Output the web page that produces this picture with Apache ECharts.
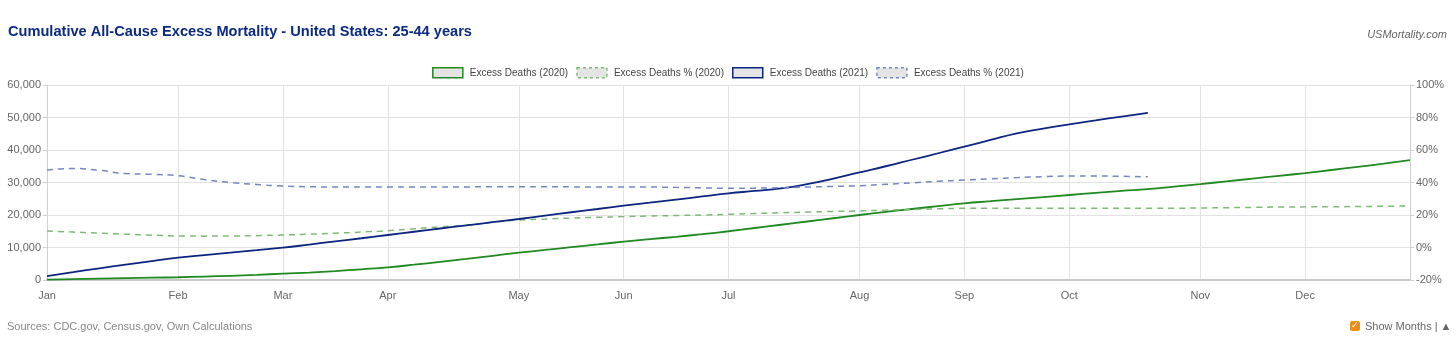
<!DOCTYPE html>
<html lang="en">
<head>
    <meta charset="UTF-8">
    <title>Cumulative All-Cause Excess Mortality</title>
    <script src="https://cdn.jsdelivr.net/npm/echarts@6/dist/echarts.min.js"></script>
    <style>
        html, body { margin: 0; padding: 0; background: #fff; }
        #container { width: 1456px; height: 351px; }
    </style>
</head>
<body>
<div id="container"></div>
<script type="text/javascript">
    // month labels and the week index at which each month starts
    var monthLabels = ['Jan', 'Feb', 'Mar', 'Apr', 'May', 'Jun', 'Jul', 'Aug', 'Sep', 'Oct', 'Nov', 'Dec'];
    var monthWeeks = [0, 5, 9, 13, 18, 22, 26, 31, 35, 39, 44, 48];
    var weekCount = 53;

    // cumulative excess deaths, weekly
    var deaths2020 = [100, 250, 400, 550, 700, 850, 1050, 1300, 1600, 1950, 2300, 2750, 3300, 3900, 4700, 5600, 6500, 7450, 8400,
        9250, 10100, 10950, 11800, 12550, 13300, 14100, 15000, 16000, 17000, 18000, 19000, 20000, 20950, 21850, 22750, 23600,
        24250, 24900, 25500, 26150, 26800, 27400, 27950, 28700, 29500, 30350, 31200, 32050, 32900, 33850, 34800, 35800, 36900];
    var deaths2021 = [1200, 2400, 3600, 4700, 5800, 6870, 7650, 8450, 9200, 9950, 10900, 11900, 12850, 13850, 14850, 15850, 16800,
        17800, 18770, 19800, 20850, 21850, 22870, 23800, 24750, 25700, 26670, 27400, 28200, 29500, 31200, 33130, 35000, 37000,
        39000, 41030, 43100, 45130, 46600, 47900, 49100, 50300, 51400];

    // cumulative excess deaths in percent, weekly
    var pct2020 = [10.2, 9.5, 8.8, 8.2, 7.6, 7.1, 7.0, 7.1, 7.3, 7.7, 8.2, 8.8, 9.5, 10.3, 11.5, 12.7, 13.8, 15.5, 16.9, 17.5,
        18.1, 18.6, 19.0, 19.4, 19.7, 20.0, 20.4, 20.9, 21.4, 21.8, 22.2, 22.5, 23.0, 23.4, 23.8, 24.1, 24.1, 24.1, 24.1, 24.1,
        24.1, 24.1, 24.2, 24.2, 24.3, 24.5, 24.7, 24.9, 25.0, 25.1, 25.2, 25.4, 25.5];
    var pct2021 = [47.7, 48.6, 47.5, 45.5, 45.0, 44.2, 41.8, 40.0, 38.8, 37.8, 37.4, 37.2, 37.2, 37.2, 37.2, 37.3, 37.3, 37.4,
        37.4, 37.4, 37.3, 37.2, 37.2, 37.2, 37.0, 36.7, 36.4, 36.5, 36.8, 37.2, 37.6, 38.0, 38.9, 39.8, 40.7, 41.5, 42.3, 43.0,
        43.6, 44.0, 44.0, 43.8, 43.5];

    var weeks = [];
    for (var i = 0; i < weekCount; i++) {
        var m = monthWeeks.indexOf(i);
        weeks.push(m >= 0 ? monthLabels[m] : 'W' + (i + 1));
    }
    function isMonthStart(idx) {
        return monthWeeks.indexOf(idx) >= 0;
    }

    var green = '#1f8a1f';
    var navy = '#0c2580';
    var greenLight = '#7dbb74';
    var blueLight = '#7485c2';

    var myChart = echarts.init(document.getElementById('container'));
    var option = {
        animation: false,
        textStyle: { fontFamily: 'Liberation Sans, Arial, sans-serif' },
        title: {
            text: 'Cumulative All-Cause Excess Mortality - United States: 25-44 years',
            left: 8, top: 24, padding: 0,
            textStyle: { color: '#0b2a82', fontSize: 14.6, fontWeight: 'bold', fontFamily: 'Liberation Sans, Arial, sans-serif' }
        },
        legend: {
            top: 67,
            left: 'center',
            padding: 0,
            icon: 'rect',
            itemWidth: 30,
            itemHeight: 10,
            itemGap: 8,
            textStyle: { fontSize: 10, color: '#444', padding: [0, 0, 0, 2] },
            data: [
                { name: 'Excess Deaths (2020)', itemStyle: { color: '#e4e4e4', borderColor: green, borderWidth: 1.5 } },
                { name: 'Excess Deaths % (2020)', itemStyle: { color: '#e4e4e4', borderColor: greenLight, borderWidth: 1.5, borderType: [3, 3] } },
                { name: 'Excess Deaths (2021)', itemStyle: { color: '#e4e4e4', borderColor: navy, borderWidth: 1.5 } },
                { name: 'Excess Deaths % (2021)', itemStyle: { color: '#e4e4e4', borderColor: blueLight, borderWidth: 1.5, borderType: [3, 3] } }
            ]
        },
        grid: { left: 47, right: 46, top: 85, bottom: 71 },
        xAxis: {
            type: 'category',
            boundaryGap: false,
            data: weeks,
            axisLine: { lineStyle: { color: '#c8c8c8', width: 2 } },
            axisTick: { show: false },
            axisLabel: { interval: isMonthStart, color: '#666', fontSize: 11, margin: 10 },
            splitLine: { show: true, interval: isMonthStart, lineStyle: { color: '#e2e2e2' } }
        },
        yAxis: [{
            type: 'value',
            min: 0, max: 60000, interval: 10000,
            axisLine: { show: true, lineStyle: { color: '#d0d0d0' } },
            axisTick: { show: true, length: 4, lineStyle: { color: '#d0d0d0' } },
            axisLabel: {
                color: '#666', fontSize: 11, margin: 6,
                formatter: function (v) { return v.toLocaleString('en-US'); }
            },
            splitLine: { lineStyle: { color: '#e2e2e2' } }
        }, {
            type: 'value',
            min: -20, max: 100, interval: 20,
            position: 'right',
            axisLine: { show: true, lineStyle: { color: '#d0d0d0' } },
            axisTick: { show: true, length: 4, lineStyle: { color: '#d0d0d0' } },
            axisLabel: { color: '#666', fontSize: 11, margin: 6, formatter: '{value}%' },
            splitLine: { show: false }
        }],
        series: [{
            name: 'Excess Deaths (2020)', type: 'line', yAxisIndex: 0, data: deaths2020,
            smooth: true, showSymbol: false, color: green,
            lineStyle: { color: green, width: 1.8 }
        }, {
            name: 'Excess Deaths % (2020)', type: 'line', yAxisIndex: 1, data: pct2020,
            smooth: true, showSymbol: false, color: greenLight,
            lineStyle: { color: greenLight, width: 1.5, type: [6, 5] }
        }, {
            name: 'Excess Deaths (2021)', type: 'line', yAxisIndex: 0, data: deaths2021,
            smooth: true, showSymbol: false, color: navy,
            lineStyle: { color: navy, width: 1.8 }
        }, {
            name: 'Excess Deaths % (2021)', type: 'line', yAxisIndex: 1, data: pct2021,
            smooth: true, showSymbol: false, color: blueLight,
            lineStyle: { color: blueLight, width: 1.5, type: [6, 5] }
        }],
        graphic: [{
            type: 'text', right: 9, top: 29,
            style: { text: 'USMortality.com', fill: '#666', font: 'italic 11px Liberation Sans, Arial, sans-serif' }
        }, {
            type: 'text', left: 7, top: 321,
            style: { text: 'Sources: CDC.gov, Census.gov, Own Calculations', fill: '#888', font: '11px Liberation Sans, Arial, sans-serif' }
        }, {
            type: 'rect', left: 1350, top: 321, shape: { width: 10, height: 10, r: 2 },
            style: { fill: '#e8901a' }
        }, {
            type: 'text', left: 1351, top: 321,
            style: { text: '\u2713', fill: '#fff', font: 'bold 9px DejaVu Sans, sans-serif' }
        }, {
            type: 'text', left: 1365, top: 321,
            style: { text: 'Show Months | \u25B2', fill: '#666', font: '11px Liberation Sans, Arial, sans-serif' }
        }]
    };
    myChart.setOption(option);
</script>
</body>
</html>
